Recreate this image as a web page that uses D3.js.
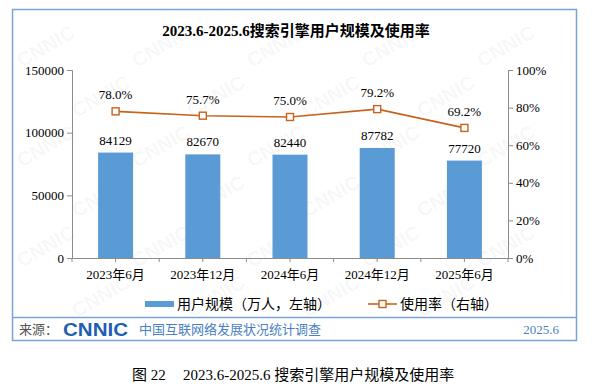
<!DOCTYPE html>
<html><head><meta charset="utf-8">
<script src="https://cdn.jsdelivr.net/npm/d3@7"></script>
<style>
html,body{margin:0;padding:0;background:#fff;}
svg{display:block;}
</style></head>
<body>
<svg id="chart" width="592" height="387"></svg>
<script>
const categories = ["2023年6月","2023年12月","2024年6月","2024年12月","2025年6月"];
const users = [84129, 82670, 82440, 87782, 77720];
const rates = [78.0, 75.7, 75.0, 79.2, 69.2];
const leftTicks = [0, 50000, 100000, 150000];
const rightTicks = [0, 20, 40, 60, 80, 100];
const titleText = "2023.6-2025.6搜索引擎用户规模及使用率";
const legendUsers = "用户规模（万人，左轴）";
const legendRate = "使用率（右轴）";
const captionNo = "图 22";
const captionText = "2023.6-2025.6 搜索引擎用户规模及使用率";

const serif = "'Liberation Serif','Times New Roman','Noto Sans CJK SC',serif";
const svg = d3.select("#chart");
const plot = {left:72, right:508, top:70, bottom:258};

// watermark (kept fully inside the frame)
const wm = svg.append("g").attr("fill","#000").attr("fill-opacity",0.045)
  .attr("font-family","Arial, 'Liberation Sans', sans-serif")
  .attr("font-weight","bold").attr("font-size",20);
for (let r=0; r<6; r++) {
  for (let c=0; c<5; c++) {
    const x = 22 + c*115 + (r%2)*55;
    const y = 68 + r*50;
    if (x > 500 || y > 330) continue;
    wm.append("text").attr("transform",`translate(${x},${y}) rotate(-30)`).text("CNNIC");
  }
}

// outer frame
svg.append("rect").attr("x",12.5).attr("y",9.5).attr("width",564).attr("height",331)
  .attr("fill","none").attr("stroke","#7aa3d8").attr("stroke-width",1.5);
svg.append("line").attr("x1",12.5).attr("x2",576.5).attr("y1",317.5).attr("y2",317.5)
  .attr("stroke","#7aa3d8").attr("stroke-width",1.5);

// title
svg.append("text").attr("x",296).attr("y",36).attr("text-anchor","middle")
  .attr("font-family",serif).attr("font-weight","bold").attr("font-size",15).attr("fill","#000")
  .text(titleText);

const x = d3.scaleBand().domain(categories).range([plot.left, plot.right]).paddingInner(0).paddingOuter(0);
const yL = d3.scaleLinear().domain([0,150000]).range([plot.bottom, plot.top]);
const yR = d3.scaleLinear().domain([0,100]).range([plot.bottom, plot.top]);

const axisColor = "#8c8c8c";
// left axis
const gL = svg.append("g").attr("transform",`translate(${plot.left},0)`)
  .call(d3.axisLeft(yL).tickValues(leftTicks).tickFormat(d3.format("d")).tickSizeOuter(0).tickSize(5));
gL.select(".domain").attr("stroke",axisColor);
gL.selectAll(".tick line").attr("stroke",axisColor);
gL.selectAll(".tick text").attr("font-family",serif).attr("font-size",13).attr("fill","#000").attr("x",-8);

// right axis
const gR = svg.append("g").attr("transform",`translate(${plot.right},0)`)
  .call(d3.axisRight(yR).tickValues(rightTicks).tickFormat(d=>d+"%").tickSizeOuter(0).tickSize(5));
gR.select(".domain").attr("stroke",axisColor);
gR.selectAll(".tick line").attr("stroke",axisColor);
gR.selectAll(".tick text").attr("font-family",serif).attr("font-size",13).attr("fill","#000").attr("x",8);

// bottom axis
const gB = svg.append("g").attr("transform",`translate(0,${plot.bottom})`)
  .call(d3.axisBottom(x).tickSize(0).tickSizeOuter(0));
gB.select(".domain").attr("stroke",axisColor);
gB.selectAll(".tick text").attr("font-family",serif).attr("font-size",13).attr("fill","#000").attr("dy","1.35em");
const tickPos = [];
categories.forEach(c => { tickPos.push(x(c)); tickPos.push(x(c)+x.bandwidth()/2); });
tickPos.push(plot.right);
gB.selectAll("line.tk").data(tickPos).enter().append("line").attr("class","tk")
  .attr("x1",d=>d).attr("x2",d=>d).attr("y1",0).attr("y2",4).attr("stroke",axisColor);

// bars
const bw = 35;
svg.append("g").selectAll("rect").data(users).enter().append("rect")
  .attr("x",(d,i)=>x(categories[i])+x.bandwidth()/2-bw/2)
  .attr("y",d=>yL(d)).attr("width",bw).attr("height",d=>plot.bottom-yL(d))
  .attr("fill","#5b9bd5");
svg.append("g").selectAll("text").data(users).enter().append("text")
  .attr("x",(d,i)=>x(categories[i])+x.bandwidth()/2).attr("y",d=>yL(d)-8)
  .attr("text-anchor","middle").attr("font-family",serif).attr("font-size",13).attr("fill","#000")
  .text(d=>d);

// line
const lineColor = "#c8621c";
const cx = (i)=>x(categories[i])+x.bandwidth()/2;
svg.append("path").datum(rates)
  .attr("d", d3.line().x((d,i)=>cx(i)).y(d=>yR(d)))
  .attr("fill","none").attr("stroke",lineColor).attr("stroke-width",1.6);
svg.append("g").selectAll("rect").data(rates).enter().append("rect")
  .attr("x",(d,i)=>cx(i)-3.5).attr("y",d=>yR(d)-3.5).attr("width",7).attr("height",7)
  .attr("fill","#fff").attr("stroke",lineColor).attr("stroke-width",1.4);
svg.append("g").selectAll("text").data(rates).enter().append("text")
  .attr("x",(d,i)=>cx(i)).attr("y",d=>yR(d)-12)
  .attr("text-anchor","middle").attr("font-family",serif).attr("font-size",13).attr("fill","#000")
  .text(d=>d.toFixed(1)+"%");

// legend
const lg = svg.append("g");
lg.append("rect").attr("x",145).attr("y",301).attr("width",29).attr("height",6).attr("fill","#5b9bd5");
lg.append("text").attr("x",177).attr("y",309).attr("font-family",serif).attr("font-size",14).attr("fill","#000").text(legendUsers);
lg.append("line").attr("x1",368).attr("x2",397).attr("y1",304).attr("y2",304).attr("stroke",lineColor).attr("stroke-width",1.6);
lg.append("rect").attr("x",379).attr("y",300.5).attr("width",7).attr("height",7).attr("fill","#fff").attr("stroke",lineColor).attr("stroke-width",1.4);
lg.append("text").attr("x",400).attr("y",309).attr("font-family",serif).attr("font-size",14).attr("fill","#000").text(legendRate);

// source line
svg.append("text").attr("x",19).attr("y",334).attr("font-family",serif).attr("font-size",13).attr("fill","#555").text("来源：");
svg.append("text").attr("x",63).attr("y",336).attr("font-family","'Liberation Sans', Arial, sans-serif").attr("font-weight","bold")
  .attr("font-size",19).attr("fill","#1f5fb0").attr("textLength",65).attr("lengthAdjust","spacingAndGlyphs").text("CNNIC");
svg.append("text").attr("x",139).attr("y",334).attr("font-family",serif).attr("font-size",13).attr("fill","#4a7fc4").text("中国互联网络发展状况统计调查");
svg.append("text").attr("x",559).attr("y",334).attr("text-anchor","end").attr("font-family",serif).attr("font-size",13).attr("fill","#4a7fc4").text("2025.6");

// caption
svg.append("text").attr("x",132).attr("y",380).attr("font-family",serif).attr("font-size",15).attr("fill","#000").text(captionNo);
svg.append("text").attr("x",183).attr("y",380).attr("font-family",serif).attr("font-size",15).attr("fill","#000").text(captionText);
</script>
</body></html>
